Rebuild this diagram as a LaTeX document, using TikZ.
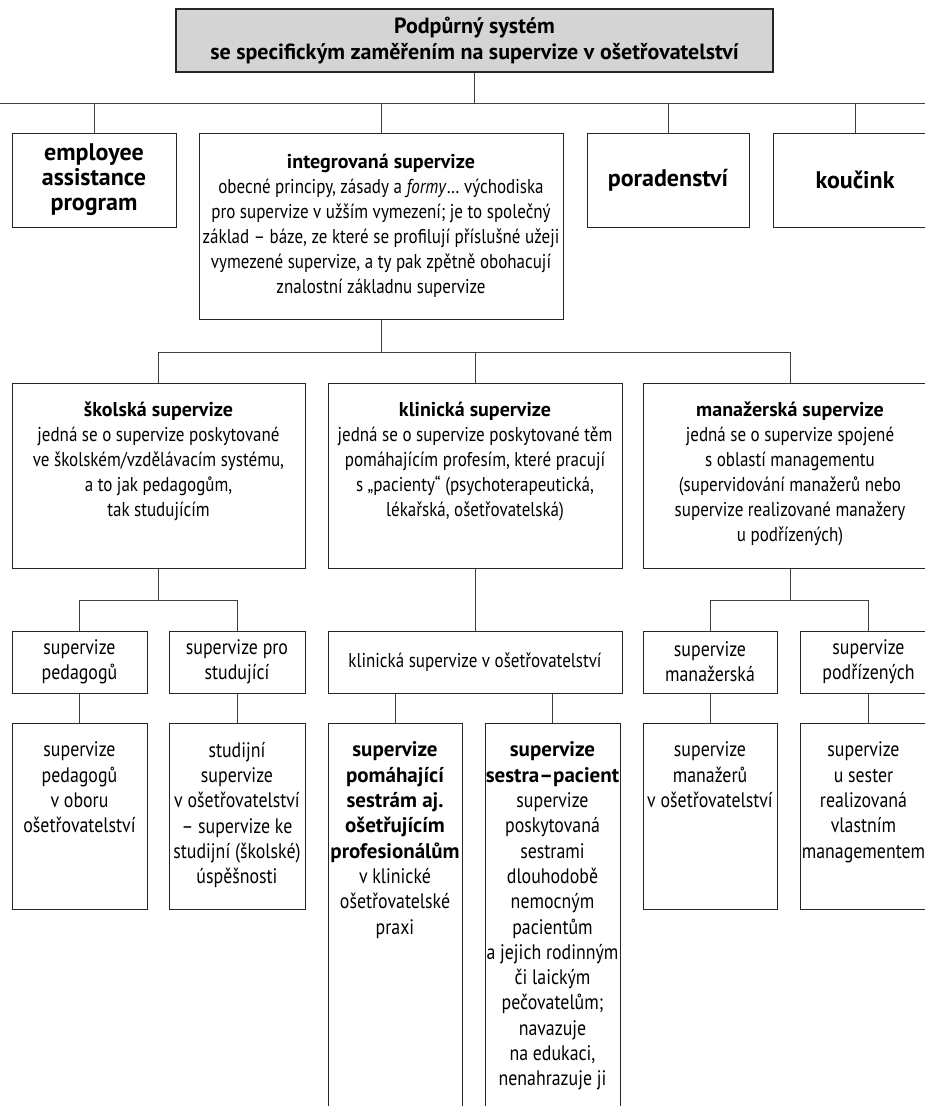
\documentclass[tikz,border=0pt]{standalone}
\usepackage{fontspec}
\setmainfont{PT Sans}[FakeStretch=0.85]
\newfontfamily\bfam{PT Sans}
\newcommand\hd[1]{{\bfam\bfseries #1}}
\usepackage{tikz}
\usetikzlibrary{positioning}

\begin{document}
\begin{tikzpicture}[x=1pt,y=-1pt,font=\fontsize{20}{25}\selectfont,
    box/.style={draw=black!85,line width=1pt,fill=white,align=center,inner sep=2pt},
    bigtext/.style={font=\fontsize{24}{25}\selectfont},
    lowfont/.style={font=\fontsize{21}{25.3}\selectfont},
    toptext/.style={anchor=north,yshift=-16pt,align=center},
    lowtext/.style={toptext,lowfont},
    wire/.style={draw=black!75,line width=1pt}]
    \useasboundingbox (0,0) rectangle (925,1106);
    % bus lines
    \coordinate (busA) at (0,103);
    \coordinate (busAr) at (925,103);
    \coordinate (busB) at (0,352);
    \coordinate (busC) at (0,600);

    % top box
    \node[box,fill=black!17,line width=1.3pt,minimum width=597pt,minimum height=63pt,font=\fontsize{22}{26}\selectfont] at (474.5,40.5) (title) {\hd{Podpůrný systém}\\\hd{se specifickým zaměřením na supervize v ošetřovatelství}};

    % second row
    \node[box,bigtext,minimum width=164pt,minimum height=94pt] at (94,180) (emp) {\hd{employee}\\\hd{assistance}\\\hd{program}};
    \node[box,minimum width=364pt,minimum height=186pt] at (381,226) (integ) {\hd{integrovaná supervize}\\obecné principy, zásady a \textit{formy}… východiska\\pro supervize v užším vymezení; je to společný\\základ – báze, ze které se profilují příslušné užeji\\vymezené supervize, a ty pak zpětně obohacují\\znalostní základnu supervize};
    \node[box,bigtext,minimum width=162pt,minimum height=94pt] at (668,180) (porad) {\hd{poradenství}};
    \node[box,bigtext,minimum width=164pt,minimum height=94pt] at (855,180) (kouc) {\hd{koučink}};

    % third row
    \node[box,minimum width=293pt,minimum height=185pt,label={[toptext]north:{\hd{školská supervize}\\jedná se o supervize poskytované\\ve školském/vzdělávacím systému,\\a to jak pedagogům,\\tak studujícím}}] at (158.5,475.5) (skol) {};
    \node[box,minimum width=294pt,minimum height=185pt,label={[toptext]north:{\hd{klinická supervize}\\jedná se o supervize poskytované těm\\pomáhajícím profesím, které pracují\\s „pacienty“ (psychoterapeutická,\\lékařská, ošetřovatelská)}}] at (475,475.5) (klin) {};
    \node[box,minimum width=294pt,minimum height=185pt,label={[toptext]north:{\hd{manažerská supervize}\\jedná se o supervize spojené\\s oblastí managementu\\(supervidování manažerů nebo\\supervize realizované manažery\\u podřízených)}}] at (790,475.5) (manaz) {};

    % fourth row
    \node[box,lowfont,minimum width=135pt,minimum height=62pt] at (79.5,662) (sped) {supervize\\pedagogů};
    \node[box,lowfont,minimum width=136pt,minimum height=62pt] at (237,662) (sstud) {supervize pro\\studující};
    \node[box,minimum width=294pt,minimum height=62pt] at (475,662) (kos) {klinická supervize v ošetřovatelství};
    \node[box,lowfont,minimum width=134pt,minimum height=62pt] at (710,662) (smanaz) {supervize\\manažerská};
    \node[box,lowfont,minimum width=137pt,minimum height=62pt] at (868.5,662) (spodr) {supervize\\podřízených};

    % fifth row
    \node[box,minimum width=135pt,minimum height=186pt,label={[lowtext]north:{supervize\\pedagogů\\v oboru\\ošetřovatelství}}] at (79.5,816) (ped5) {};
    \node[box,minimum width=136pt,minimum height=186pt,label={[lowtext]north:{studijní\\supervize\\v ošetřovatelství\\– supervize ke\\studijní (školské)\\úspěšnosti}}] at (237,816) (stud5) {};
    \node[box,minimum width=134pt,minimum height=400pt,label={[lowtext]north:{\hd{supervize}\\\hd{pomáhající}\\\hd{sestrám aj.}\\\hd{ošetřujícím}\\\hd{profesionálům}\\v klinické\\ošetřovatelské\\praxi}}] at (395,923) (pomah) {};
    \node[box,minimum width=135pt,minimum height=400pt,label={[lowtext]north:{\hd{supervize}\\\hd{sestra–pacient}\\supervize\\poskytovaná\\sestrami\\dlouhodobě\\nemocným\\pacientům\\a jejich rodinným\\či laickým\\pečovatelům;\\navazuje\\na edukaci,\\nenahrazuje ji}}] at (552.5,923) (sestra) {};
    \node[box,minimum width=134pt,minimum height=186pt,label={[lowtext]north:{supervize\\manažerů\\v ošetřovatelství}}] at (710,816) (manaz5) {};
    \node[box,minimum width=137pt,minimum height=186pt,label={[lowtext,xshift=-5pt]north:{supervize\\u sester\\realizovaná\\vlastním\\managementem}}] at (868.5,816) (podr5) {};

    % connectors
    \draw[wire] (busA) -- (busAr);
    \draw[wire] (title.south) -- (title.south |- busA);
    \foreach \n in {emp,integ,porad,kouc}
        \draw[wire] (\n.north) -- (\n.north |- busA);
    \draw[wire] (integ.south) -- (integ.south |- busB);
    \draw[wire] (skol.north |- busB) -- (manaz.north |- busB);
    \foreach \n in {skol,klin,manaz}
        \draw[wire] (\n.north) -- (\n.north |- busB);
    \draw[wire] (skol.south) -- (skol.south |- busC);
    \draw[wire] (sped.north |- busC) -- (sstud.north |- busC);
    \draw[wire] (manaz.south) -- (manaz.south |- busC);
    \draw[wire] (smanaz.north |- busC) -- (spodr.north |- busC);
    \foreach \n in {sped,sstud,smanaz,spodr}
        \draw[wire] (\n.north) -- (\n.north |- busC);
    \draw[wire] (klin.south) -- (kos.north);
    \draw[wire] (sped.south) -- (ped5.north);
    \draw[wire] (sstud.south) -- (stud5.north);
    \draw[wire] (smanaz.south) -- (manaz5.north);
    \draw[wire] (spodr.south) -- (podr5.north);
    \draw[wire] (pomah.north) -- (pomah.north |- kos.south);
    \draw[wire] (sestra.north) -- (sestra.north |- kos.south);
\end{tikzpicture}
\end{document}
